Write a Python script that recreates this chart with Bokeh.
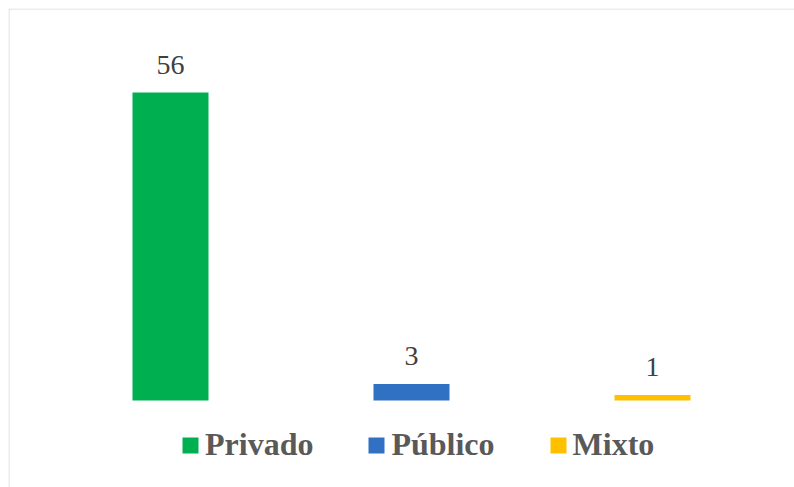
from bokeh.plotting import figure
from bokeh.models import ColumnDataSource, Range1d, Span
from bokeh.core.properties import value
from bokeh.embed import file_html
from bokeh.resources import INLINE

categories = ["Privado", "Público", "Mixto"]
counts = [56, 3, 1]
colors = ["#00B050", "#3071C3", "#FFC000"]

xs = list(range(len(categories)))
labels = [str(c) for c in counts]

W, H = 794, 487
BL, BT = 8, 8
px_x = 241.0
px_y = 5.5
x0 = -(170 - BL) / px_x
x1 = x0 + (W - BL) / px_x
y1 = (400 - BT) / px_y
y0 = y1 - (H - BT) / px_y

p = figure(width=W, height=H, output_backend="svg", toolbar_location=None,
           x_range=Range1d(x0, x1), y_range=Range1d(y0, y1),
           x_axis_location=None, y_axis_location=None,
           min_border_left=BL, min_border_top=BT, min_border_right=0, min_border_bottom=0,
           border_fill_color="white", background_fill_color="white",
           outline_line_color=None)
p.grid.visible = False

# chart-area border (left and top edges visible)
p.add_layout(Span(location=x0 + 0.5 / px_x, dimension="height", line_color="#D9D9D9", line_width=1))
p.add_layout(Span(location=y1 - 0.5 / px_y, dimension="width", line_color="#D9D9D9", line_width=1))

source = ColumnDataSource(dict(x=xs, cat=categories, count=counts, color=colors, label=labels))
p.vbar(x="x", top="count", bottom=0, width=0.3154, fill_color="color", line_color=None,
       source=source, legend_field="cat")
p.text(x="x", y="count", text="label", text_align="center", text_baseline="alphabetic",
       y_offset=-28, text_font=value("Liberation Serif"), text_font_size="28px",
       text_color="#404040", source=source)

lg = p.legend[0]
lg.location = (172, 24)
lg.orientation = "horizontal"
lg.spacing = 53
lg.label_standoff = 5
lg.glyph_width = 20
lg.glyph_height = 20
lg.padding = 0
lg.margin = 0
lg.border_line_color = None
lg.background_fill_alpha = 0
lg.label_text_font = "Liberation Serif"
lg.label_text_font_style = "bold"
lg.label_text_font_size = "32px"
lg.label_text_color = "#595959"

open("out.html", "w").write(file_html(p, INLINE))
